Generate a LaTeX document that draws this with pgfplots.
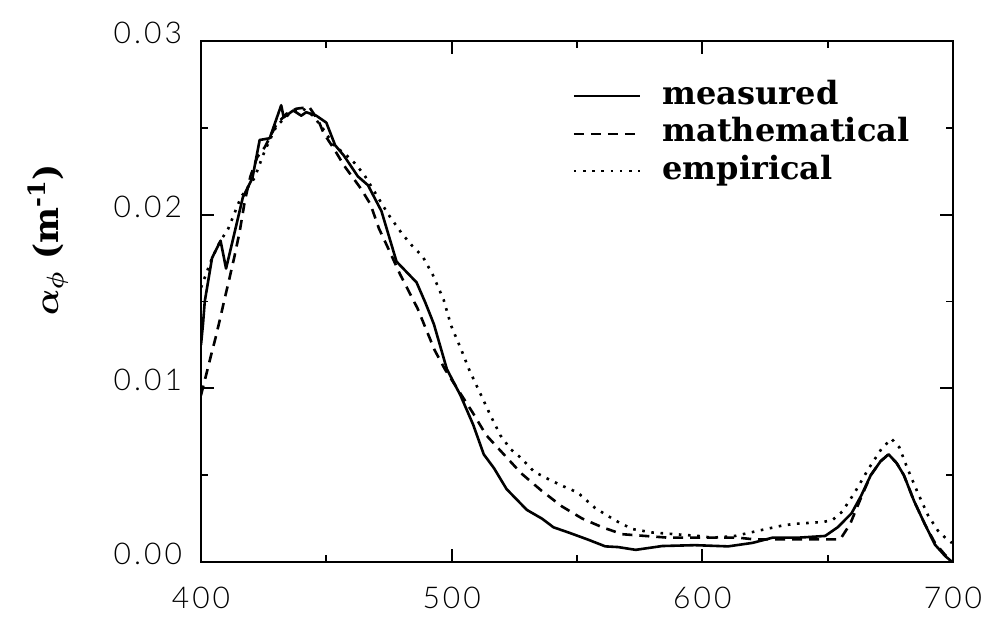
\documentclass[border=0pt]{standalone}
\usepackage{fontspec}
\usepackage{bm}
\usepackage{pgfplots}
\usepackage{pgfplotstable}
\pgfplotsset{compat=1.18}

\IfFontExistsTF{Lato Light}
  {\newfontfamily\tickfont{Lato Light}[LetterSpace=10]}
  {\newfontfamily\tickfont{Lato}[LetterSpace=10]}
\newfontfamily\serifb{DejaVu Serif}

% phytoplankton absorption spectra: wavelength (nm), a_phi (1/m)
\pgfplotstableread{
x y
400 0.0125
400.8 0.0137
401.5 0.0150
404.4 0.0175
407.8 0.0185
410 0.0169
412.3 0.0183
416.7 0.0210
420.5 0.0221
423.4 0.0243
427.4 0.0244
432 0.0263
433 0.0256
436.8 0.0260
440 0.0257
442 0.0259
446 0.0257
450 0.0253
453.5 0.0240
457 0.0234
462.6 0.0222
466.6 0.0217
472 0.0202
478 0.0173
486 0.0161
489.6 0.0149
492.9 0.0137
498.1 0.0111
503.5 0.0096
508.6 0.0079
512.8 0.0062
516.9 0.0054
521.9 0.0042
530 0.0030
536 0.0025
540.6 0.0020
546.6 0.0017
554.2 0.0013
561.3 0.0009
566.4 0.00086
573.4 0.0007
584 0.00092
597 0.00097
610.3 0.0009
620 0.0011
628 0.0014
638.2 0.0014
649 0.0015
654 0.0020
659.5 0.0028
663.3 0.0038
667.2 0.0050
671.1 0.0058
674.3 0.0062
677.5 0.0057
680.4 0.0050
684.5 0.0035
688.7 0.0022
692.8 0.0010
696.9 0.00034
699.7 0.0
}\measured

\pgfplotstableread{
x y
400 0.0096
401.4 0.0104
404 0.0119
405.8 0.0129
407.6 0.0140
409.5 0.0152
411.3 0.0163
413.2 0.0175
415.4 0.0190
417.5 0.0208
419.7 0.0222
422.4 0.0233
425.5 0.0239
430.1 0.0252
434 0.0258
438 0.0261
443.2 0.0262
446.9 0.0254
448.9 0.0247
453 0.0238
457.2 0.0228
463.8 0.0215
467.6 0.0206
471 0.0192
475.2 0.0179
479.3 0.0166
486.4 0.0146
493.2 0.0122
497.3 0.0111
508.4 0.0086
513.8 0.0073
520.8 0.0062
527.8 0.0051
535.9 0.0041
544 0.0032
552.1 0.0025
560.1 0.0020
568.1 0.0016
577.2 0.0015
586.5 0.0014
597.1 0.0014
606.3 0.0014
614.3 0.0014
621 0.0013
638.2 0.0013
647.8 0.0013
655 0.0013
659 0.0022
663.3 0.0037
667.2 0.0050
671.1 0.0058
674.3 0.0062
677.5 0.0057
680.4 0.0050
684.5 0.0035
688.7 0.0022
692.8 0.0011
696.9 0.0004
700 0.0
}\mathematical

\pgfplotstableread{
x y
400 0.0158
404.4 0.0175
407.8 0.0185
410.9 0.0192
415.9 0.0210
421.3 0.0221
425.5 0.0237
430.1 0.0251
435.2 0.0258
440.7 0.0261
444.7 0.0257
448.9 0.0249
453 0.0240
458.2 0.0234
461.1 0.0230
465.1 0.0223
469.3 0.0213
474.8 0.0200
480.2 0.0189
484.3 0.0182
488.4 0.0176
492.6 0.0165
496.8 0.0151
499.8 0.0136
503.9 0.0122
506.9 0.0111
511.1 0.0098
515.3 0.0085
519.4 0.0073
523.5 0.0065
527.6 0.0060
532.9 0.0052
538.2 0.0048
543.9 0.0044
550.3 0.0040
557.3 0.0031
564.1 0.0025
566.5 0.0023
572 0.0019
580 0.0017
589.2 0.0016
598.4 0.0015
604 0.0014
613.1 0.0015
622.3 0.0018
631.9 0.0021
637 0.0022
647.8 0.0023
651.8 0.0024
655.8 0.0029
660.8 0.0040
666 0.0053
671.4 0.0065
675.4 0.0071
678.6 0.0066
681.8 0.0054
685.9 0.0040
690 0.0027
694 0.0018
697.6 0.0013
699.6 0.0011
}\empirical

\begin{document}
\begin{tikzpicture}
\path[use as bounding box] (-100.5pt,-27.5pt) rectangle (390pt,281pt);
\begin{axis}[
  at={(0pt,0pt)}, anchor=south west,
  scale only axis, width=376pt, height=260.5pt,
  xmin=400, xmax=700, ymin=0, ymax=0.03,
  xtick={400,500,600,700}, xticklabels={400,500,600,700},
  ytick={0,0.01,0.02,0.03}, yticklabels={0.00,0.01,0.02,0.03},
  minor x tick num=1, minor y tick num=1,
  scaled y ticks=false,
  tick align=inside,
  major tick length=6.5pt, minor tick length=3.5pt,
  tick style={black, line width=0.9pt},
  axis line style={line width=1.2pt},
  ticklabel style={font=\tickfont\fontsize{15}{15}\selectfont},
  xticklabel style={yshift=-9pt},
  yticklabel style={xshift=-6pt, yshift=4pt},
  every axis y label/.style={at={(axis description cs:-0.2035,0.618)}, rotate=90, anchor=center},
  ylabel={\serifb\bfseries\fontsize{17}{17}\selectfont $\bm{\alpha}_{\bm{\phi}}$ (m\textsuperscript{-1})},
  legend cell align=left,
  legend image code/.code={\draw[#1, line width=0.8pt] (0pt,0pt) -- (33pt,0pt);},
  legend style={draw=none, fill=none, at={(axis description cs:0.4947,0.822)}, anchor=west,
    inner sep=0pt, outer sep=0pt, row sep=2.75pt, column sep=11pt,
    font=\serifb\bfseries\fontsize{16}{16}\selectfont,
    nodes={inner sep=0pt, text height=12pt, text depth=4pt}},
]
\addplot[black, line width=1.3pt, line join=round] table[x=x,y=y] {\measured};
\addlegendentry{measured}
\addplot[black, line width=1.3pt, dash pattern=on 5pt off 3.5pt] table[x=x,y=y] {\mathematical};
\addlegendentry{mathematical}
\addplot[black, line width=1.3pt, dash pattern=on 1.3pt off 3.3pt] table[x=x,y=y] {\empirical};
\addlegendentry{empirical}
\end{axis}
\end{tikzpicture}
\end{document}
